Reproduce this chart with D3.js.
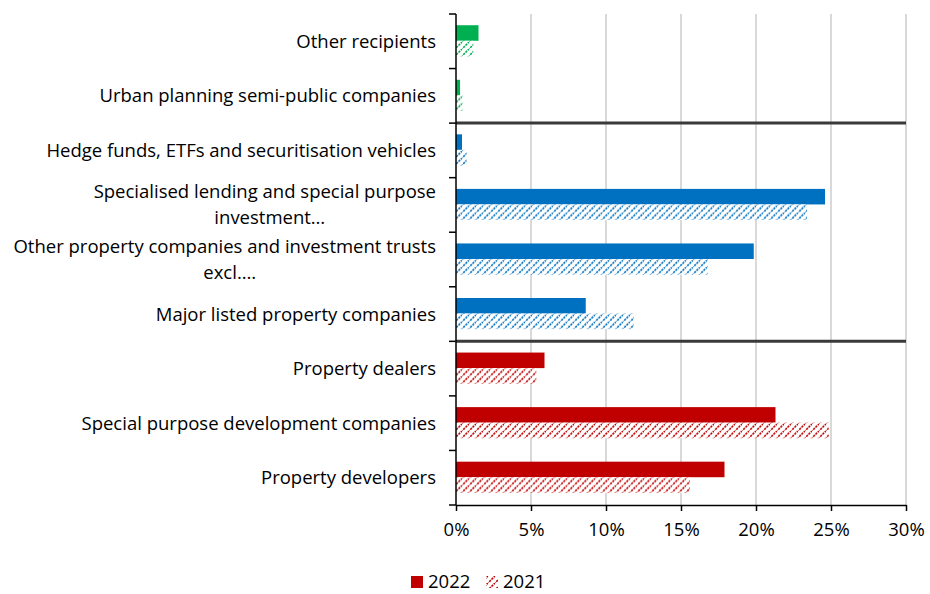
<!DOCTYPE html>
<html>
<head>
<meta charset="utf-8">
<script src="https://cdn.jsdelivr.net/npm/d3@7"></script>
<style>
  html, body { margin: 0; padding: 0; background: #fff; }
  svg { display: block; }
  text { font-family: "Open Sans", Lato, sans-serif; fill: #000; }
</style>
</head>
<body>
<svg id="chart" width="930" height="594"></svg>
<script>
// Recipient categories, top to bottom, with their label lines
const categories = [
  "Other recipients",
  "Urban planning semi-public companies",
  "Hedge funds, ETFs and securitisation vehicles",
  "Specialised lending and special purpose investment…",
  "Other property companies and investment trusts excl.…",
  "Major listed property companies",
  "Property dealers",
  "Special purpose development companies",
  "Property developers"
];
const labelLines = [
  ["Other recipients"],
  ["Urban planning semi-public companies"],
  ["Hedge funds, ETFs and securitisation vehicles"],
  ["Specialised lending and special purpose", "investment…"],
  ["Other property companies and investment trusts", "excl.…"],
  ["Major listed property companies"],
  ["Property dealers"],
  ["Special purpose development companies"],
  ["Property developers"]
];
// Sector group of each category
const groups = ["other", "other", "investment", "investment", "investment", "investment",
                "development", "development", "development"];
// Shares in percent
const values2022 = [1.5, 0.27, 0.4, 24.6, 19.85, 8.65, 5.9, 21.3, 17.9];
const values2021 = [1.15, 0.45, 0.7, 23.4, 16.8, 11.85, 5.35, 24.85, 15.6];
const seriesNames = ["2022", "2021"];
const xTicks = [0, 5, 10, 15, 20, 25, 30];

const groupColor = { other: "#00B050", investment: "#0070C0", development: "#C00000" };

const svg = d3.select("#chart");
const plot = { left: 456, right: 906, top: 14, bottom: 505 };
const labelRight = 436;

// Font size chosen so the widest label line fills the label column
const probe = svg.append("text").attr("font-size", 18)
  .text("Other property companies and investment trusts");
const fs = 18 * 423 / probe.node().getComputedTextLength();
probe.remove();

const x = d3.scaleLinear().domain([0, 30]).range([plot.left, plot.right]);
const y = d3.scaleBand().domain(categories).range([plot.top, plot.bottom]).padding(0);
const bw = y.bandwidth();
const barH = bw * 0.285;
const sub = d3.scaleBand().domain(seriesNames)
  .range([(bw - 2 * barH) / 2 - 0.5, (bw - 2 * barH) / 2 - 0.5 + 2 * barH]).padding(0);

// Diagonal hatch patterns for the 2021 series
const defs = svg.append("defs");
Object.entries(groupColor).forEach(([g, c]) => {
  const p = defs.append("pattern")
    .attr("id", "hatch-" + g)
    .attr("patternUnits", "userSpaceOnUse")
    .attr("width", 7).attr("height", 7);
  p.append("rect").attr("width", 7).attr("height", 7).attr("fill", "#fff");
  p.append("path")
    .attr("d", "M-1,8 L8,-1 M-2,2 L2,-2 M5,9 L9,5")
    .attr("stroke", c).attr("stroke-width", 1.6)
    .attr("stroke-dasharray", "2.2,1");
});

// Vertical gridlines
svg.append("g").selectAll("line")
  .data(xTicks.filter(t => t > 0))
  .join("line")
  .attr("x1", d => x(d)).attr("x2", d => x(d))
  .attr("y1", plot.top).attr("y2", plot.bottom)
  .attr("stroke", "#d9d9d9").attr("stroke-width", 2);

// Bars
const rows = svg.append("g").selectAll("g")
  .data(categories.map((c, i) => ({ c, i })))
  .join("g")
  .attr("transform", d => `translate(0,${y(d.c)})`);

rows.append("rect")
  .attr("x", x(0))
  .attr("y", sub("2022"))
  .attr("width", d => x(values2022[d.i]) - x(0))
  .attr("height", sub.bandwidth())
  .attr("fill", d => groupColor[groups[d.i]]);

rows.append("rect")
  .attr("x", x(0))
  .attr("y", sub("2021"))
  .attr("width", d => x(values2021[d.i]) - x(0))
  .attr("height", sub.bandwidth())
  .attr("fill", d => `url(#hatch-${groups[d.i]})`);

// Separators between sector groups
const sepIdx = [];
for (let i = 1; i < groups.length; i++) if (groups[i] !== groups[i - 1]) sepIdx.push(i);
svg.append("g").selectAll("line")
  .data(sepIdx)
  .join("line")
  .attr("x1", x(0)).attr("x2", x(30))
  .attr("y1", d => y(categories[d])).attr("y2", d => y(categories[d]))
  .attr("stroke", "#3a3a3a").attr("stroke-width", 3);

// X axis
const xAxis = svg.append("g")
  .attr("transform", `translate(0,${plot.bottom})`)
  .call(d3.axisBottom(x).tickValues(xTicks).tickFormat(d => d + "%").tickSize(6).tickSizeOuter(0).tickPadding(12));
xAxis.select(".domain").attr("stroke", "#000").attr("stroke-width", 1.5);
xAxis.selectAll(".tick line").attr("stroke", "#000").attr("stroke-width", 1.5);
xAxis.selectAll(".tick text").attr("font-size", fs)
  .attr("font-family", "'Open Sans', Lato, sans-serif").attr("fill", "#000");

// Y axis line and boundary ticks
svg.append("line")
  .attr("x1", x(0)).attr("x2", x(0))
  .attr("y1", plot.top).attr("y2", plot.bottom)
  .attr("stroke", "#000").attr("stroke-width", 1.5);
const boundaries = categories.map(c => y(c)).concat([plot.bottom]);
svg.append("g").selectAll("line")
  .data(boundaries)
  .join("line")
  .attr("x1", x(0) - 7).attr("x2", x(0))
  .attr("y1", d => d).attr("y2", d => d)
  .attr("stroke", "#000").attr("stroke-width", 1.5);

// Category labels
const lineGap = 26;
categories.forEach((c, i) => {
  const lines = labelLines[i];
  const cy = y(c) + bw / 2;
  const y0 = cy - (lines.length - 1) * lineGap / 2;
  const first = svg.append("text")
    .attr("x", labelRight).attr("y", y0)
    .attr("dy", "0.35em")
    .attr("text-anchor", "end")
    .attr("font-size", fs)
    .text(lines[0]);
  if (lines.length > 1) {
    const w = first.node().getComputedTextLength();
    const mid = labelRight - w / 2;
    lines.slice(1).forEach((ln, k) => {
      svg.append("text")
        .attr("x", mid + 5).attr("y", y0 + (k + 1) * lineGap)
        .attr("dy", "0.35em")
        .attr("text-anchor", "middle")
        .attr("font-size", fs)
        .text(ln);
    });
  }
});

// Legend
const legend = svg.append("g").attr("transform", "translate(411,576)");
legend.append("rect").attr("x", 0).attr("y", 0).attr("width", 12).attr("height", 12)
  .attr("fill", groupColor.development);
legend.append("text").attr("x", 17).attr("y", 6).attr("dy", "0.35em")
  .attr("font-size", fs).text(seriesNames[0]);
legend.append("rect").attr("x", 75).attr("y", 0).attr("width", 12).attr("height", 12)
  .attr("fill", "url(#hatch-development)");
legend.append("text").attr("x", 92).attr("y", 6).attr("dy", "0.35em")
  .attr("font-size", fs).text(seriesNames[1]);
</script>
</body>
</html>
